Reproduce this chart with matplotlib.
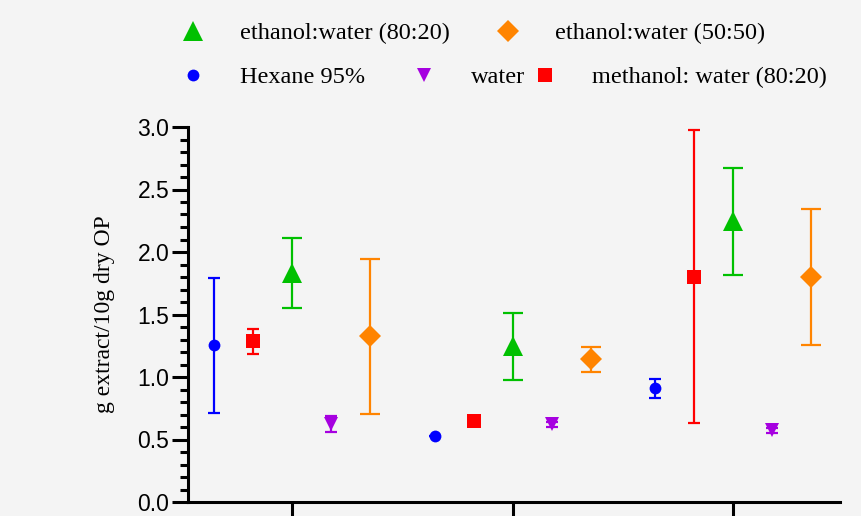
import matplotlib
matplotlib.use('Agg')
from matplotlib import pyplot as plt
from matplotlib.lines import Line2D
from matplotlib.ticker import MultipleLocator, FormatStrFormatter
import numpy as np

# three extraction groups, x tick labels left blank as in the original
groups = [0, 1, 2]

hexane = [1.256, 0.53, 0.909]
hexane_err = [0.54, 0.0, 0.075]

methanol = [1.285, 0.65, 1.804]
methanol_err = [0.10, 0.0, 1.17]

ethanol_80 = [1.83, 1.245, 2.245]
ethanol_80_err = [0.28, 0.265, 0.43]

water = [0.625, 0.624, 0.573]
water_err = [0.065, 0.02, 0.02]

ethanol_50 = [1.327, 1.141, 1.80]
ethanol_50_err = [0.62, 0.10, 0.545]

bg = '#f4f4f4'
serif = 'Liberation Serif'
sans = 'Liberation Sans'

fig = plt.figure(figsize=(8.61, 5.16), dpi=100, facecolor=bg)
ax = fig.add_axes([188 / 861, 14 / 516, 652 / 861, 375 / 516])
ax.set_facecolor(bg)

step = 0.177
x = np.array(groups, dtype=float)

series = [
    (hexane, hexane_err, -2, 'o', 8.5, '#0000ff', 4.3, 'Hexane 95%'),
    (methanol, methanol_err, -1, 's', 9.5, '#ff0000', 4.6, 'methanol: water (80:20)'),
    (ethanol_80, ethanol_80_err, 0, '^', 15, '#00c000', 7.5, 'ethanol:water (80:20)'),
    (water, water_err, 1, 'v', 10, '#a600e0', 4.3, 'water'),
    (ethanol_50, ethanol_50_err, 2, 'D', 11, '#ff8400', 7.5, 'ethanol:water (50:50)'),
]

handles = {}
for vals, err, off, mk, ms, col, cap, label in series:
    eb = ax.errorbar(x + off * step, vals, yerr=err, fmt=mk, ms=ms, color=col,
                     ecolor=col, elinewidth=1.6, capsize=cap, capthick=1.6,
                     markeredgewidth=0)
    for c in eb[1]:
        c.set_markeredgewidth(1.6)
    handles[label] = Line2D([], [], linestyle='none', marker=mk, ms=ms,
                            color=col, markeredgewidth=0)

ax.set_xlim(-0.472, 2.485)
ax.set_ylim(0, 3.0)
ax.yaxis.set_major_locator(MultipleLocator(0.5))
ax.yaxis.set_minor_locator(MultipleLocator(0.1))
ax.yaxis.set_major_formatter(FormatStrFormatter('%.1f'))
ax.set_xticks(groups)
ax.set_xticklabels([])

for side in ['top', 'right']:
    ax.spines[side].set_visible(False)
for side in ['left', 'bottom']:
    ax.spines[side].set_linewidth(2.2)

ax.tick_params(axis='y', which='major', length=11.5, width=2.2, labelsize=16.5, pad=2)
ax.tick_params(axis='y', which='minor', length=6, width=2.2)
ax.tick_params(axis='x', which='major', length=12, width=2.2)
for lbl in ax.get_yticklabels():
    lbl.set_family(sans)

ax.set_ylabel('g extract/10g dry OP', family=serif, fontsize=17, labelpad=16)

# legend entries placed one by one, (marker x, row y) in pixels
legend_spots = [
    ('ethanol:water (80:20)', 193, 33),
    ('ethanol:water (50:50)', 508, 33),
    ('Hexane 95%', 193, 77),
    ('water', 424, 77),
    ('methanol: water (80:20)', 545, 77),
]
fs = 17.5
half_handle = 0.5 * fs * 100 / 72
for label, px, py in legend_spots:
    fig.legend([handles[label]], [label], frameon=False,
               prop={'family': serif, 'size': fs}, loc='center left',
               borderpad=0, borderaxespad=0, handlelength=1.0, handletextpad=1.45,
               bbox_to_anchor=((px - half_handle) / 861, 1 - py / 516))

fig.savefig('out.png', dpi=100, facecolor=bg)
